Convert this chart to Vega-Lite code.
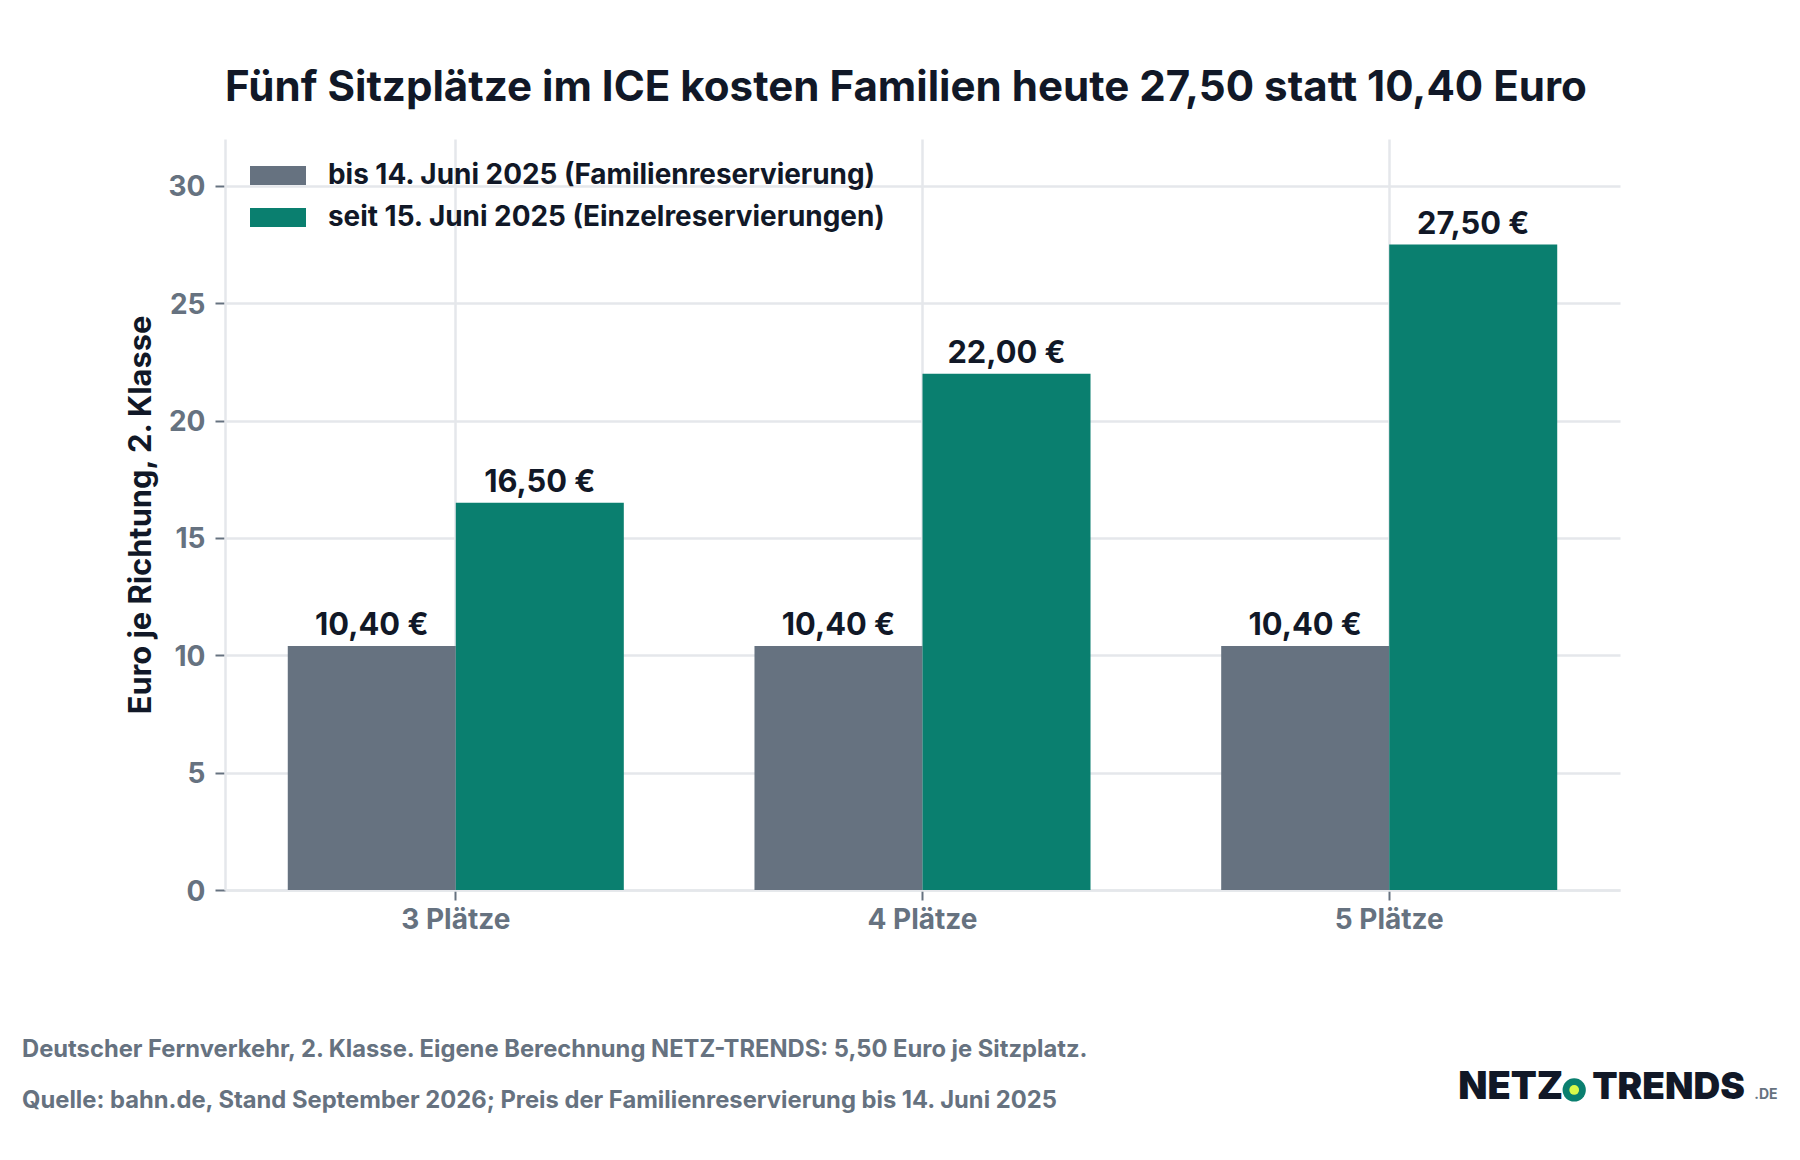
{
  "$schema": "https://vega.github.io/schema/vega-lite/v6.json",
  "width": 1395,
  "height": 751,
  "autosize": {"type": "none"},
  "padding": {"left": 225, "top": 139, "right": 180, "bottom": 270},
  "background": "white",
  "title": {
    "text": "Fünf Sitzplätze im ICE kosten Familien heute 27,50 statt 10,40 Euro",
    "anchor": "start",
    "frame": "group",
    "font": "Inter",
    "fontSize": 42.1,
    "fontWeight": 700,
    "color": "#111827",
    "offset": 29
  },
  "layer": [
    {
      "data": {
        "values": [
          {"sitze": "3 Plätze", "tarif": "bis 14. Juni 2025 (Familienreservierung)", "preis": 10.4, "label": "10,40 €"},
          {"sitze": "3 Plätze", "tarif": "seit 15. Juni 2025 (Einzelreservierungen)", "preis": 16.5, "label": "16,50 €"},
          {"sitze": "4 Plätze", "tarif": "bis 14. Juni 2025 (Familienreservierung)", "preis": 10.4, "label": "10,40 €"},
          {"sitze": "4 Plätze", "tarif": "seit 15. Juni 2025 (Einzelreservierungen)", "preis": 22, "label": "22,00 €"},
          {"sitze": "5 Plätze", "tarif": "bis 14. Juni 2025 (Familienreservierung)", "preis": 10.4, "label": "10,40 €"},
          {"sitze": "5 Plätze", "tarif": "seit 15. Juni 2025 (Einzelreservierungen)", "preis": 27.5, "label": "27,50 €"}
        ]
      },
      "encoding": {
        "x": {
          "field": "sitze",
          "type": "nominal",
          "scale": {"type": "band", "domain": ["3 Plätze", "4 Plätze", "5 Plätze"], "paddingInner": 0.28, "paddingOuter": 0.1345},
          "axis": {
            "labelAngle": 0,
            "labelFont": "Inter",
            "labelFontSize": 28,
            "labelFontWeight": 700,
            "labelColor": "#667280",
            "labelPadding": 6,
            "tickColor": "#667280",
            "tickWidth": 2,
            "tickSize": 10,
            "domainColor": "#e5e7eb",
            "domainWidth": 2.5,
            "grid": true,
            "gridColor": "#e5e7eb",
            "gridWidth": 2.5,
            "title": [
              "Deutscher Fernverkehr, 2. Klasse. Eigene Berechnung NETZ-TRENDS: 5,50 Euro je Sitzplatz.",
              "Quelle: bahn.de, Stand September 2026; Preis der Familienreservierung bis 14. Juni 2025"
            ],
            "titleFont": "Inter",
            "titleFontSize": 23.75,
            "titleFontWeight": 700,
            "titleColor": "#667280",
            "titleAlign": "left",
            "titleBaseline": "alphabetic",
            "titleLineHeight": 51,
            "titleX": -203.5,
            "titleY": 166.5
          }
        },
        "xOffset": {
          "field": "tarif",
          "type": "nominal",
          "scale": {"domain": ["bis 14. Juni 2025 (Familienreservierung)", "seit 15. Juni 2025 (Einzelreservierungen)"]}
        },
        "y": {
          "field": "preis",
          "type": "quantitative",
          "scale": {"domain": [0, 32], "nice": false},
          "axis": {
            "values": [0, 5, 10, 15, 20, 25, 30],
            "labelFont": "Inter",
            "labelFontSize": 28,
            "labelFontWeight": 700,
            "labelColor": "#667280",
            "labelPadding": 10,
            "labelOffset": 2,
            "tickColor": "#667280",
            "tickWidth": 2,
            "tickSize": 10,
            "domainColor": "#e5e7eb",
            "domainWidth": 2.5,
            "grid": true,
            "gridColor": "#e5e7eb",
            "gridWidth": 2.5,
            "title": "Euro je Richtung, 2. Klasse",
            "titleFont": "Inter",
            "titleFontSize": 30.8,
            "titleFontWeight": 700,
            "titleColor": "#111827",
            "titleX": -69,
            "titleAnchor": "middle"
          }
        }
      },
      "layer": [
        {
          "mark": {"type": "bar"},
          "encoding": {
            "color": {
              "field": "tarif",
              "type": "nominal",
              "scale": {
                "domain": ["bis 14. Juni 2025 (Familienreservierung)", "seit 15. Juni 2025 (Einzelreservierungen)"],
                "range": ["#667280", "#0a7f6f"]
              },
              "legend": {
                "title": null,
                "orient": "none",
                "legendX": 25,
                "legendY": 8.5,
                "symbolType": "M-1,-0.34H1V0.34H-1Z",
                "symbolSize": 3136,
                "symbolStrokeWidth": 0,
                "symbolOpacity": 1,
                "labelFont": "Inter",
                "labelFontSize": 27.9,
                "labelFontWeight": 700,
                "labelColor": "#111827",
                "labelLimit": 800,
                "labelOffset": 22,
                "rowPadding": 0
              }
            }
          }
        },
        {
          "mark": {"type": "text", "baseline": "alphabetic", "dy": -10.5, "font": "Inter", "fontSize": 30.8, "fontWeight": 700, "color": "#111827"},
          "encoding": {
            "text": {"field": "label"}
          }
        }
      ]
    },
    {
      "data": {"values": [{"logo": "NETZ"}]},
      "mark": {"type": "text", "align": "left", "baseline": "alphabetic", "dx": 69, "font": "Inter", "fontSize": 38, "fontWeight": 900, "color": "#111827"},
      "encoding": {
        "x": {"datum": "5 Plätze"},
        "y": {"datum": -8.9},
        "text": {"field": "logo"}
      }
    },
    {
      "data": {"values": [{"logo": "TRENDS"}]},
      "mark": {"type": "text", "align": "left", "baseline": "alphabetic", "dx": 203, "font": "Inter", "fontSize": 37, "fontWeight": 900, "color": "#111827"},
      "encoding": {
        "x": {"datum": "5 Plätze"},
        "y": {"datum": -8.9},
        "text": {"field": "logo"}
      }
    },
    {
      "data": {"values": [{"logo": ".DE"}]},
      "mark": {"type": "text", "align": "left", "baseline": "alphabetic", "dx": 365, "font": "Inter", "fontSize": 14, "fontWeight": 700, "color": "#667280"},
      "encoding": {
        "x": {"datum": "5 Plätze"},
        "y": {"datum": -8.9},
        "text": {"field": "logo"}
      }
    },
    {
      "data": {"values": [{"logo": "punkt"}]},
      "mark": {"type": "point", "filled": true, "opacity": 1, "size": 540, "xOffset": 185, "color": "#0a7f6f"},
      "encoding": {
        "x": {"datum": "5 Plätze"},
        "y": {"datum": -8.52}
      }
    },
    {
      "data": {"values": [{"logo": "punkt"}]},
      "mark": {"type": "point", "filled": true, "opacity": 1, "size": 95, "xOffset": 185, "color": "#d9f84a"},
      "encoding": {
        "x": {"datum": "5 Plätze"},
        "y": {"datum": -8.52}
      }
    }
  ],
  "config": {
    "view": {"stroke": null},
    "font": "Inter"
  }
}
